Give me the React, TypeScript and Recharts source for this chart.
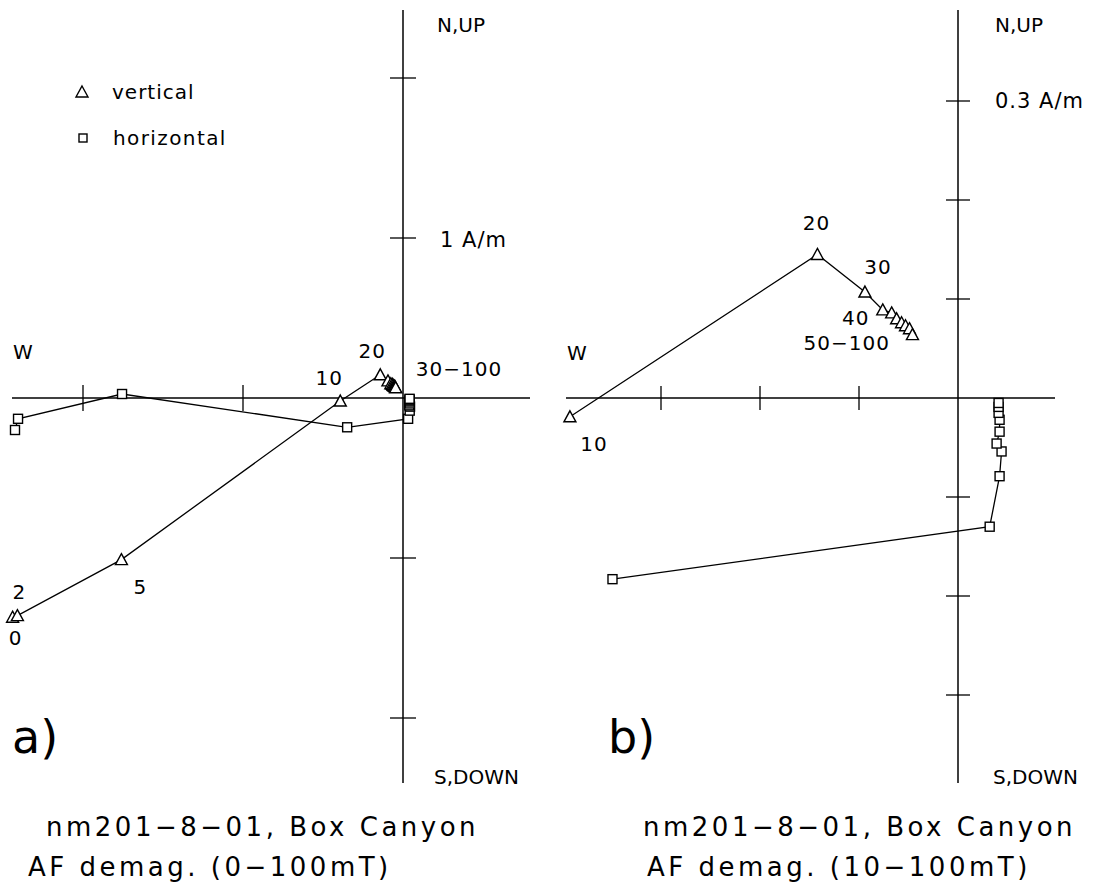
import React from 'react';
import { ScatterChart, Scatter, XAxis, YAxis, ReferenceLine } from 'recharts';

// AF demagnetisation steps (mT)
const steps = [0, 2, 5, 10, 20, 30, 40, 50, 60, 70, 80, 90, 100];

// vertical projection (triangles), A/m
const vertX = [-2.44, -2.41, -1.76, -0.392, -0.142, -0.094, -0.076, -0.067, -0.062, -0.057, -0.053, -0.049, -0.046];
const vertY = [-1.37, -1.36, -1.01, -0.019, 0.145, 0.107, 0.089, 0.086, 0.08, 0.076, 0.073, 0.07, 0.064];

// horizontal projection (squares), A/m
const horX = [-2.425, -2.406, -1.756, -0.349, 0.032, 0.042, 0.044, 0.039, 0.042, 0.042, 0.041, 0.041, 0.041];
const horY = [-0.2, -0.13, 0.025, -0.183, -0.13, -0.079, -0.054, -0.046, -0.034, -0.022, -0.015, -0.009, -0.005];

// step labels on the vertical projection
const labelStepsA = [0, 2, 5, 10, 20, 30];
const labelTextsA = ['0', '2', '5', '10', '20', '30\u2212100'];
const labelStepsB = [10, 20, 30, 40, 50];
const labelTextsB = ['10', '20', '30', '40', '50\u2212100'];

// axis ticks (A/m)
const ticksAX = [-2, -1];
const ticksAY = [2, 1, -1, -2];
const ticksBX = [-0.3, -0.2, -0.1];
const ticksBY = [0.3, 0.2, 0.1, -0.1, -0.2, -0.3];

const FONT = '"DejaVu Sans", sans-serif';

type Pt = { x: number; y: number; step: number };

const makePts = (xs: number[], ys: number[], from: number): Pt[] =>
  steps.map((s, i) => ({ x: xs[i], y: ys[i], step: s })).slice(from);

// label offsets in px from the point
const labelOffsets: Record<string, [number, number]> = {
  'a0': [3, 21], 'a2': [2, -24], 'a5': [19, 27], 'a10': [-11, -23], 'a20': [-8, -24], 'a30': [71, -12],
  'b10': [24, 27], 'b20': [-1, -31], 'b30': [13, -25], 'b40': [-27, 8], 'b50': [-45, 30],
};

const makeTriangle = (panel: string, lSteps: number[], lTexts: string[]) => (props: any) => {
  const { cx, cy, payload } = props;
  const idx = lSteps.indexOf(payload.step);
  const off = labelOffsets[panel + payload.step];
  return (
    <g>
      <path d={`M${cx},${cy - 6} L${cx + 6},${cy + 5} L${cx - 6},${cy + 5} Z`} fill="#fff" stroke="#000" strokeWidth={1.4} />
      {idx >= 0 && off && (
        <text x={cx + off[0]} y={cy + off[1]} textAnchor="middle" dominantBaseline="central"
          fontFamily={FONT} fontSize={20} letterSpacing={1} fill="#000">
          {lTexts[idx]}
        </text>
      )}
    </g>
  );
};

const squareShape = (props: any) => {
  const { cx, cy } = props;
  return <rect x={cx - 4.5} y={cy - 4.5} width={9} height={9} fill="#fff" stroke="#000" strokeWidth={1.4} />;
};

interface PanelProps {
  left: number;
  width: number;
  height: number;
  originX: number;
  originY: number;
  scale: number;
  from: number;
  ticksX: number[];
  ticksY: number[];
  axisLeft: number;
  axisRight: number;
  tickLen: number;
  panel: string;
  lSteps: number[];
  lTexts: string[];
}

// one Zijderveld panel; axisLeft/axisRight are in panel-local px
const Panel: React.FC<PanelProps> = p => {
  const xDom: [number, number] = [-p.originX / p.scale, (p.width - p.originX) / p.scale];
  const yDom: [number, number] = [-(p.height - p.originY) / p.scale, p.originY / p.scale];
  const yTop = (p.originY - 10) / p.scale;
  const yBot = -(783 - p.originY) / p.scale;
  const xL = -(p.originX - p.axisLeft) / p.scale;
  const xR = (p.axisRight - p.originX) / p.scale;
  const t = p.tickLen / p.scale;
  return (
    <div style={{ position: 'absolute', left: p.left, top: 0 }}>
      <ScatterChart width={p.width} height={p.height} margin={{ top: 0, right: 0, bottom: 0, left: 0 }}>
        <XAxis type="number" dataKey="x" domain={xDom} allowDataOverflow hide />
        <YAxis type="number" dataKey="y" domain={yDom} allowDataOverflow hide />
        <ReferenceLine segment={[{ x: 0, y: yTop }, { x: 0, y: yBot }]} stroke="#000" strokeWidth={1.5} />
        <ReferenceLine segment={[{ x: xL, y: 0 }, { x: xR, y: 0 }]} stroke="#000" strokeWidth={1.5} />
        {p.ticksX.map(v => (
          <ReferenceLine key={'tx' + v} segment={[{ x: v, y: -t }, { x: v, y: t }]} stroke="#000" strokeWidth={1.3} />
        ))}
        {p.ticksY.map(v => (
          <ReferenceLine key={'ty' + v} segment={[{ x: -t, y: v }, { x: t, y: v }]} stroke="#000" strokeWidth={1.3} />
        ))}
        <Scatter data={makePts(horX, horY, p.from)} line={{ stroke: '#000', strokeWidth: 1.3 }}
          shape={squareShape} isAnimationActive={false} />
        <Scatter data={makePts(vertX, vertY, p.from)} line={{ stroke: '#000', strokeWidth: 1.3 }}
          shape={makeTriangle(p.panel, p.lSteps, p.lTexts)} isAnimationActive={false} />
      </ScatterChart>
    </div>
  );
};

const txt = { fontFamily: FONT, fill: '#000' };

const App: React.FC = () => (
  <div style={{ position: 'absolute', left: 0, top: 0, width: 1108, height: 888, background: '#fff' }}>
    <Panel left={0} width={540} height={800} originX={403} originY={398} scale={160} from={0}
      ticksX={ticksAX} ticksY={ticksAY} axisLeft={12} axisRight={530} tickLen={13}
      panel="a" lSteps={labelStepsA} lTexts={labelTextsA} />
    <Panel left={548} width={560} height={800} originX={410} originY={398} scale={990} from={3}
      ticksX={ticksBX} ticksY={ticksBY} axisLeft={18} axisRight={507} tickLen={12}
      panel="b" lSteps={labelStepsB} lTexts={labelTextsB} />
    <svg width={1108} height={888} style={{ position: 'absolute', left: 0, top: 0, pointerEvents: 'none' }}>
      {/* panel a */}
      <text x={437} y={25} fontSize={20} dominantBaseline="central" {...txt}>N,UP</text>
      <text x={434} y={777} fontSize={20} dominantBaseline="central" {...txt}>S,DOWN</text>
      <text x={13} y={352} fontSize={20} dominantBaseline="central" {...txt}>W</text>
      <text x={440} y={240} fontSize={21} dominantBaseline="central" letterSpacing={1} {...txt}>1  A/m</text>
      <path d="M82,86 L88,97 L76,97 Z" fill="#fff" stroke="#000" strokeWidth={1.4} />
      <text x={112} y={92} fontSize={20} dominantBaseline="central" letterSpacing={1} {...txt}>vertical</text>
      <rect x={79} y={134} width={8} height={8} fill="#fff" stroke="#000" strokeWidth={1.4} />
      <text x={113} y={138} fontSize={20} dominantBaseline="central" letterSpacing={1.4} {...txt}>horizontal</text>
      <text x={12} y={737} fontSize={46} dominantBaseline="central" {...txt}>a)</text>
      <text x={46} y={827} fontSize={26} dominantBaseline="central" letterSpacing={3.5} {...txt}>nm201&#8722;8&#8722;01, Box Canyon</text>
      <text x={28} y={867} fontSize={26} dominantBaseline="central" letterSpacing={3.5} {...txt}>AF demag. (0&#8722;100mT)</text>
      {/* panel b */}
      <text x={995} y={25} fontSize={20} dominantBaseline="central" {...txt}>N,UP</text>
      <text x={995} y={101} fontSize={21} dominantBaseline="central" letterSpacing={1} {...txt}>0.3  A/m</text>
      <text x={567} y={353} fontSize={20} dominantBaseline="central" {...txt}>W</text>
      <text x={993} y={777} fontSize={20} dominantBaseline="central" {...txt}>S,DOWN</text>
      <text x={608} y={737} fontSize={46} dominantBaseline="central" {...txt}>b)</text>
      <text x={643} y={827} fontSize={26} dominantBaseline="central" letterSpacing={3.5} {...txt}>nm201&#8722;8&#8722;01, Box Canyon</text>
      <text x={647} y={867} fontSize={26} dominantBaseline="central" letterSpacing={3.5} {...txt}>AF demag. (10&#8722;100mT)</text>
    </svg>
  </div>
);

export default App;
